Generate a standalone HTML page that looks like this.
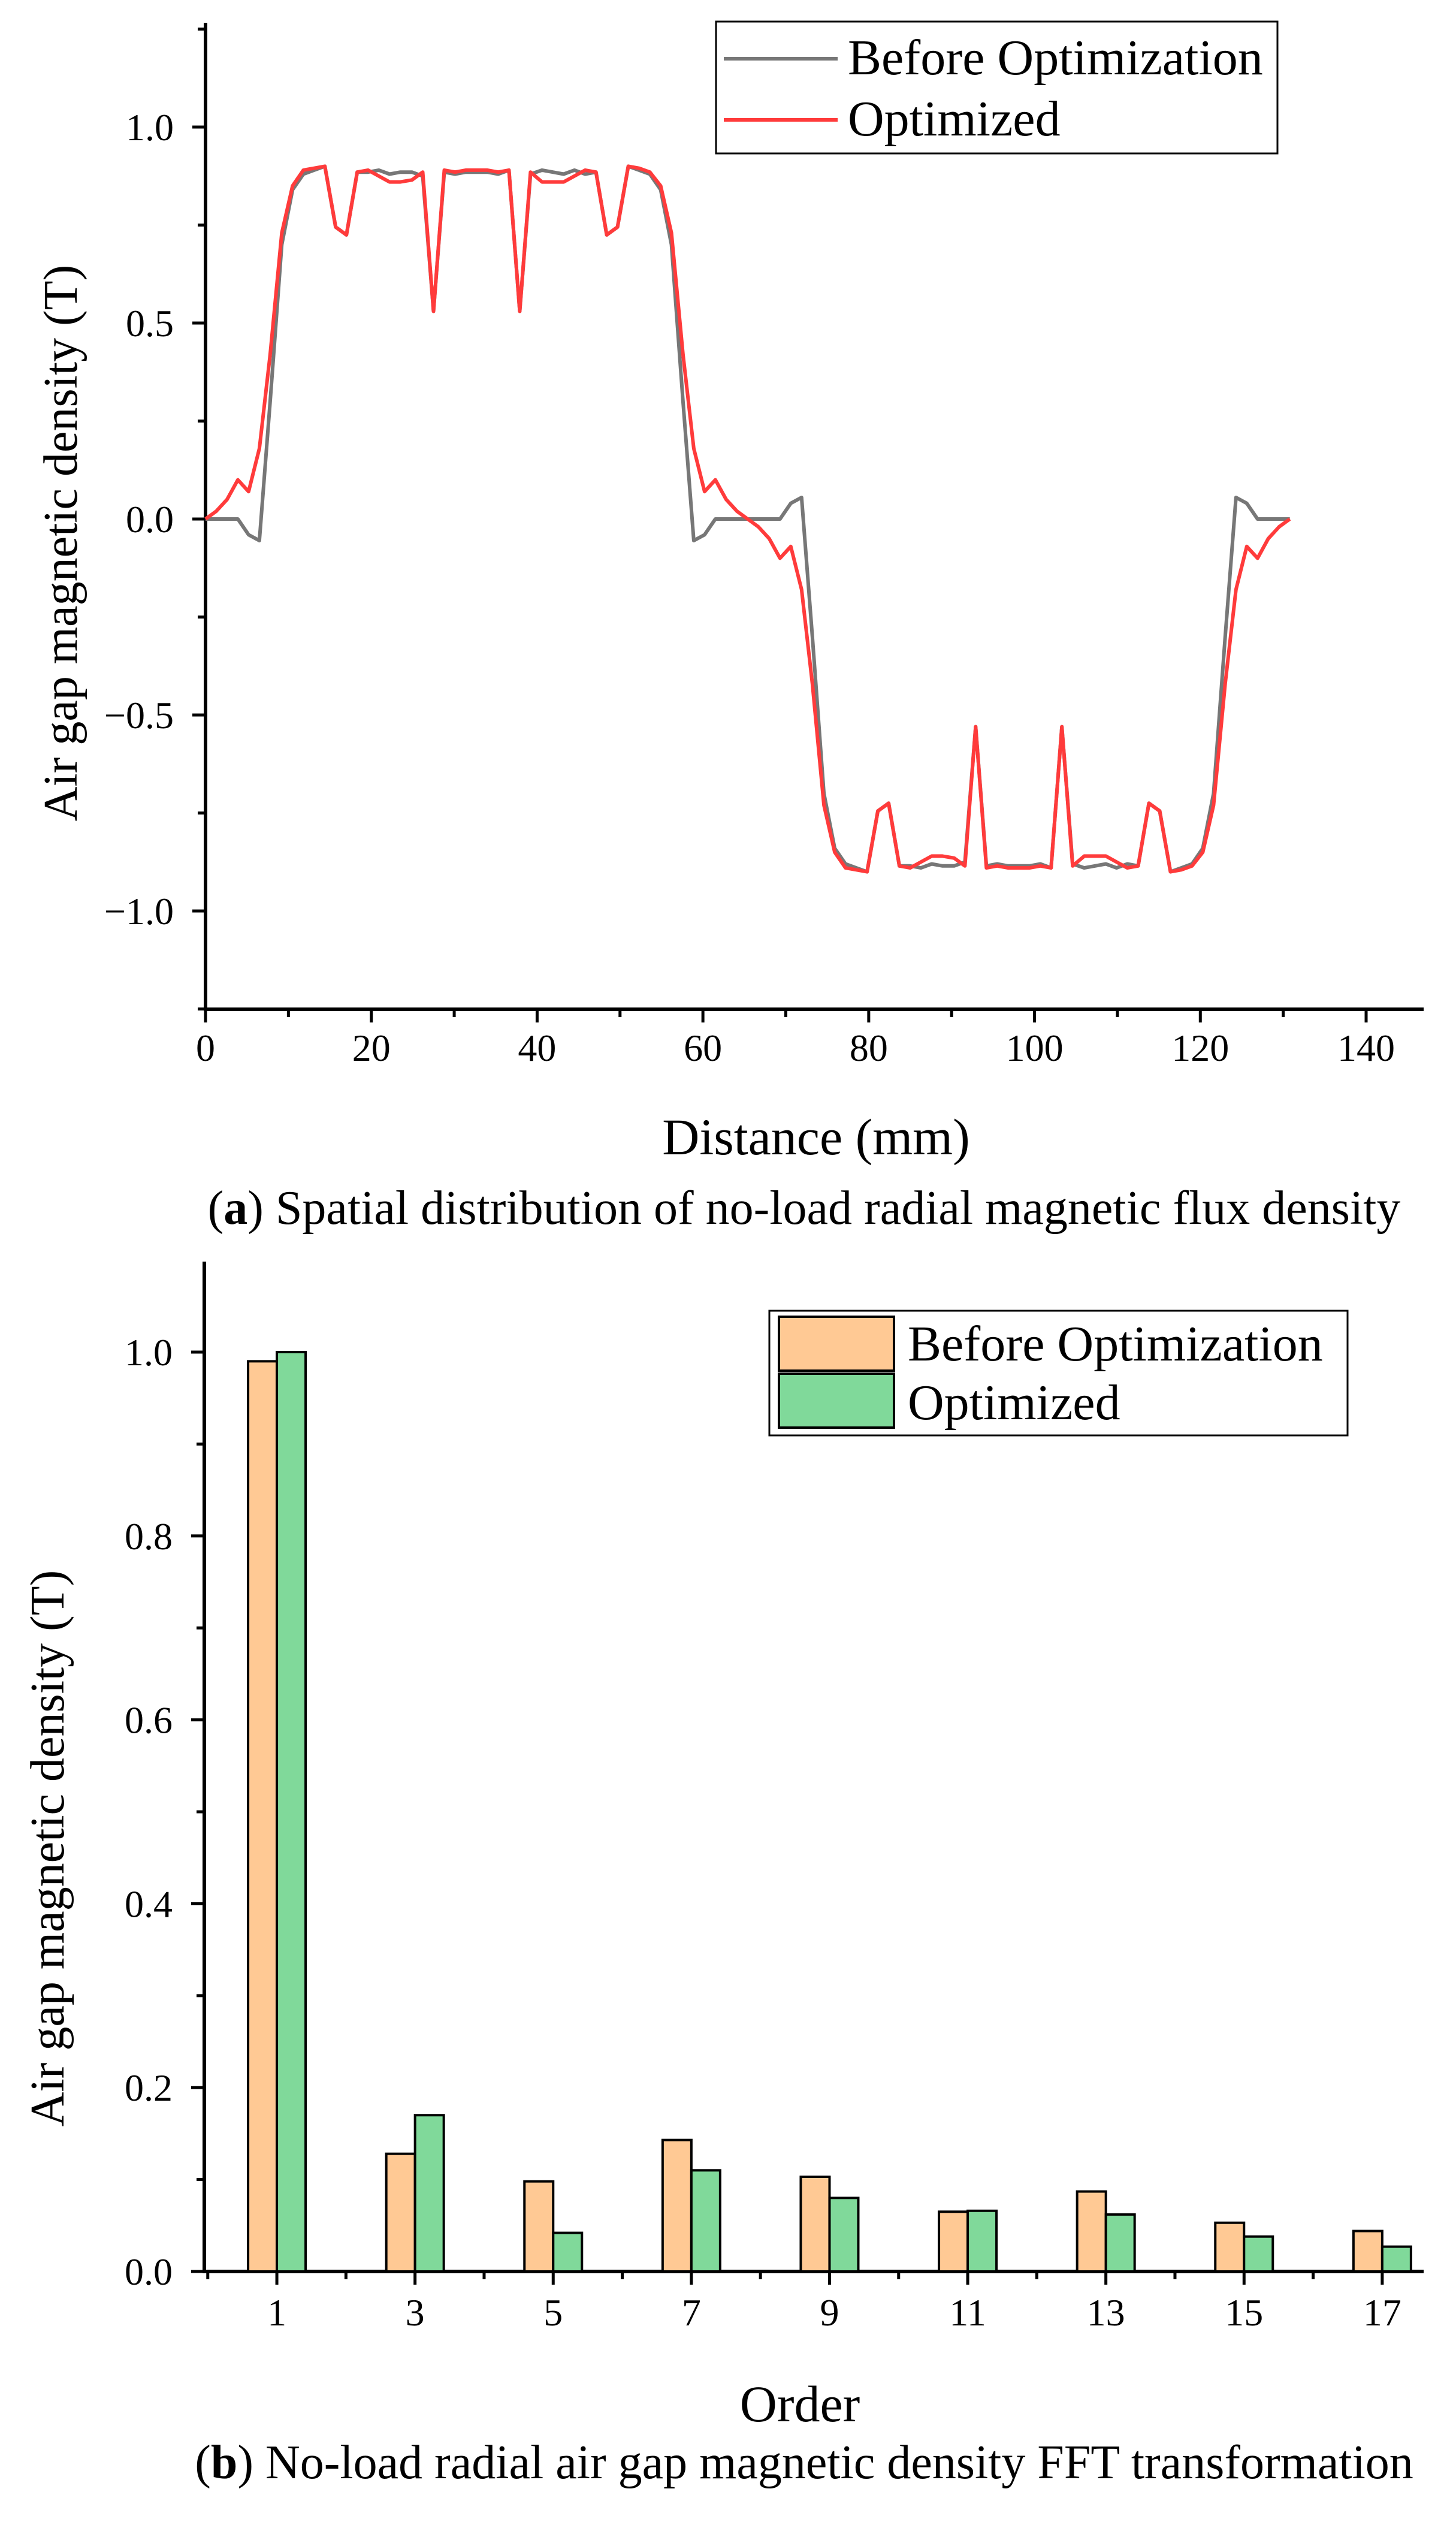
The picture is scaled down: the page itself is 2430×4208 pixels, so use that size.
<!DOCTYPE html>
<html><head><meta charset="utf-8"><style>
html,body{margin:0;padding:0;background:#fff}
svg{display:block}
text{font-family:"Liberation Serif",serif;fill:#000}
</style></head><body>
<svg id="fig" width="2430" height="4208" viewBox="0 0 2430 4208" xmlns="http://www.w3.org/2000/svg">
<g id="chartA"></g>
<g id="chartB"></g>
<text x="1342" y="2042" font-size="80" text-anchor="middle">(<tspan font-weight="bold">a</tspan>) Spatial distribution of no-load radial magnetic flux density</text>
<text x="1342" y="4135" font-size="80" text-anchor="middle">(<tspan font-weight="bold">b</tspan>) No-load radial air gap magnetic density FFT transformation</text>
</svg>
<script>
const distX=[0,1.3,2.6,3.9,5.2,6.5,7.8,9.2,10.5,11.8,13.1,14.4,15.7,17.0,18.3,19.6,20.9,22.2,23.5,24.9,26.2,27.5,28.8,30.1,31.4,32.7,34.0,35.3,36.6,37.9,39.2,40.6,41.9,43.2,44.5,45.8,47.1,48.4,49.7,51.0,52.3,53.6,54.9,56.2,57.6,58.9,60.2,61.5,62.8,64.1,65.4,66.7,68.0,69.3,70.6,71.9,73.2,74.6,75.9,77.2,78.5,79.8,81.1,82.4,83.7,85.0,86.3,87.6,88.9,90.3,91.6,92.9,94.2,95.5,96.8,98.1,99.4,100.7,102.0,103.3,104.6,106.0,107.3,108.6,109.9,111.2,112.5,113.8,115.1,116.4,117.7,119.0,120.3,121.6,123.0,124.3,125.6,126.9,128.2,129.5,130.8];
const beforeB=[0,0,0,0,-0.04,-0.055,0.3,0.7,0.84,0.88,0.89,0.9,0.745,0.725,0.885,0.885,0.89,0.88,0.885,0.885,0.875,0.53,0.885,0.88,0.885,0.885,0.885,0.88,0.89,0.53,0.88,0.89,0.885,0.88,0.89,0.88,0.885,0.725,0.745,0.9,0.89,0.88,0.84,0.7,0.3,-0.055,-0.04,0,0,0,0,0,0,0,0.04,0.055,-0.3,-0.7,-0.84,-0.88,-0.89,-0.9,-0.745,-0.725,-0.885,-0.885,-0.89,-0.88,-0.885,-0.885,-0.875,-0.53,-0.885,-0.88,-0.885,-0.885,-0.885,-0.88,-0.89,-0.53,-0.88,-0.89,-0.885,-0.88,-0.89,-0.88,-0.885,-0.725,-0.745,-0.9,-0.89,-0.88,-0.84,-0.7,-0.3,0.055,0.04,0,0,0,0];
const optB=[0,0.02,0.05,0.1,0.07,0.18,0.42,0.73,0.85,0.89,0.895,0.9,0.745,0.725,0.885,0.89,0.875,0.86,0.86,0.865,0.885,0.53,0.89,0.885,0.89,0.89,0.89,0.885,0.89,0.53,0.885,0.86,0.86,0.86,0.875,0.89,0.885,0.725,0.745,0.9,0.895,0.885,0.85,0.73,0.42,0.18,0.07,0.1,0.05,0.02,0,-0.02,-0.05,-0.1,-0.07,-0.18,-0.42,-0.73,-0.85,-0.89,-0.895,-0.9,-0.745,-0.725,-0.885,-0.89,-0.875,-0.86,-0.86,-0.865,-0.885,-0.53,-0.89,-0.885,-0.89,-0.89,-0.89,-0.885,-0.89,-0.53,-0.885,-0.86,-0.86,-0.86,-0.875,-0.89,-0.885,-0.725,-0.745,-0.9,-0.895,-0.885,-0.85,-0.73,-0.42,-0.18,-0.07,-0.1,-0.05,-0.02,0];
const xTicksA=[0,20,40,60,80,100,120,140];
const yTicksA=[-1.0,-0.5,0.0,0.5,1.0];
const yLabelsA=["\u22121.0","\u22120.5","0.0","0.5","1.0"];
const orders=[1,3,5,7,9,11,13,15,17];
const fftBefore=[0.99,0.128,0.098,0.143,0.103,0.065,0.087,0.053,0.044];
const fftOpt=[1.0,0.17,0.042,0.11,0.08,0.066,0.062,0.038,0.027];
const yTicksB=[0.0,0.2,0.4,0.6,0.8,1.0];
const yLabelsB=["0.0","0.2","0.4","0.6","0.8","1.0"];

const NS="http://www.w3.org/2000/svg";
function mk(parent,tag,attrs,txt){const e=document.createElementNS(NS,tag);for(const k in attrs)e.setAttribute(k,attrs[k]);if(txt!==undefined)e.textContent=txt;parent.appendChild(e);return e;}

// Chart A
const A=document.getElementById('chartA');
const ax0=343,ax1=2376,ay0=38,ay1=1684;
const sxA=v=>343+v*(2280-343)/140;
const syA=v=>866-v*654;
let e;
e=mk(A,'path',{d:`M${ax0},${ay0}V${ay1}H${ax1}`,fill:'none',stroke:'#000','stroke-width':6});


for(let v=0;v<=140;v+=10){const x=sxA(v);const major=v%20===0;
 e=mk(A,'line',{x1:x,x2:x,y1:ay1,y2:ay1+(major?22:13),stroke:'#000','stroke-width':5});
 
 }
xTicksA.forEach(v=>{e=mk(A,'text',{x:sxA(v),y:ay1+86,'font-size':64,'text-anchor':'middle'},String(v));
 
 });
for(let k=-5;k<=5;k++){const v=k*0.25;const y=syA(v);const major=k%2===0;
 e=mk(A,'line',{x1:ax0-(major?22:13),x2:ax0,y1:y,y2:y,stroke:'#000','stroke-width':5});
 
 }
yTicksA.forEach((v,i)=>{e=mk(A,'text',{x:290,y:syA(v)+22,'font-size':64,'text-anchor':'end'},yLabelsA[i]);
 
 });
e=mk(A,'text',{x:1362,y:1926,'font-size':86,'text-anchor':'middle'},'Distance (mm)');


e=mk(A,'text',{x:0,y:0,'font-size':80,'text-anchor':'middle',transform:'translate(128,906) rotate(-90)'},'Air gap magnetic density (T)');


function line(arr,color,name){const d=arr.map((v,i)=>(i?'L':'M')+sxA(distX[i]).toFixed(1)+','+syA(v).toFixed(1)).join('');
 const p=mk(A,'path',{d:d,fill:'none',stroke:color,'stroke-width':6,'stroke-linejoin':'round'});
 
 }
line(beforeB,'#777777','line-before-optimization');
line(optB,'#ff3b3b','line-optimized');
const lgA=mk(A,'g',{});


mk(lgA,'rect',{x:1195,y:36,width:937,height:220,fill:'#fff',stroke:'#000','stroke-width':3});
mk(lgA,'line',{x1:1208,x2:1398,y1:98,y2:98,stroke:'#777777','stroke-width':6});
e=mk(lgA,'text',{x:1415,y:124,'font-size':84},'Before Optimization');


mk(lgA,'line',{x1:1208,x2:1398,y1:200,y2:200,stroke:'#ff3b3b','stroke-width':6});
e=mk(lgA,'text',{x:1415,y:226,'font-size':84},'Optimized');



// Chart B
const B=document.getElementById('chartB');
const bx0=341,bx1=2376,by0=2105,by1=3790;
const sxB=v=>bx0+(v+0.05)*115.3;
const syB=v=>by1-v*1534;
const bw=48;
e=mk(B,'path',{d:`M${bx0},${by0}V${by1}H${bx1}`,fill:'none',stroke:'#000','stroke-width':6});


orders.forEach((o,i)=>{
 e=mk(B,'rect',{x:sxB(o)-bw,y:syB(fftBefore[i]),width:bw,height:by1-syB(fftBefore[i]),fill:'#ffc994',stroke:'#000','stroke-width':4});
 
 
 e=mk(B,'rect',{x:sxB(o),y:syB(fftOpt[i]),width:bw,height:by1-syB(fftOpt[i]),fill:'#80d99a',stroke:'#000','stroke-width':4});
 
 
 e=mk(B,'text',{x:sxB(o),y:by1+90,'font-size':64,'text-anchor':'middle'},String(o));
 
 });
for(let v=0;v<=17;v++){const x=sxB(v);const major=v%2===1;
 e=mk(B,'line',{x1:x,x2:x,y1:by1,y2:by1+(major?22:13),stroke:'#000','stroke-width':5});
 
 }
for(let k=0;k<=10;k++){const v=k/10;const y=syB(v);const major=k%2===0;
 e=mk(B,'line',{x1:bx0-(major?22:13),x2:bx0,y1:y,y2:y,stroke:'#000','stroke-width':5});
 
 }
yTicksB.forEach((v,i)=>{e=mk(B,'text',{x:288,y:syB(v)+22,'font-size':64,'text-anchor':'end'},yLabelsB[i]);
 
 });
e=mk(B,'text',{x:1335,y:4040,'font-size':86,'text-anchor':'middle'},'Order');


e=mk(B,'text',{x:0,y:0,'font-size':80,'text-anchor':'middle',transform:'translate(106,3084) rotate(-90)'},'Air gap magnetic density (T)');


const lgB=mk(B,'g',{});


mk(lgB,'rect',{x:1284,y:2187,width:965,height:208,fill:'#fff',stroke:'#000','stroke-width':3});
mk(lgB,'rect',{x:1300,y:2197,width:192,height:90,fill:'#ffc994',stroke:'#000','stroke-width':4});
e=mk(lgB,'text',{x:1515,y:2270,'font-size':84},'Before Optimization');


mk(lgB,'rect',{x:1300,y:2292,width:192,height:90,fill:'#80d99a',stroke:'#000','stroke-width':4});
e=mk(lgB,'text',{x:1515,y:2368,'font-size':84},'Optimized');


</script>
</body></html>
